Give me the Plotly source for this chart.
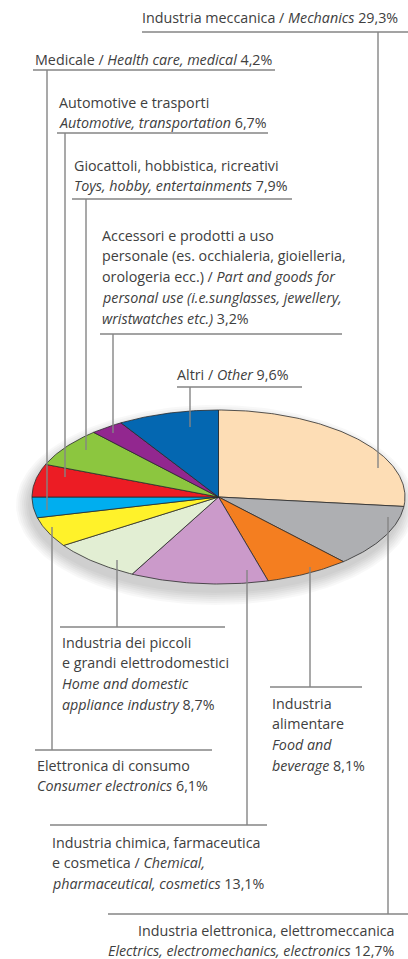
import numpy as np
import plotly.graph_objects as go

# ---------------- data ----------------
categories = [
    "Industria meccanica / Mechanics",
    "Industria elettronica, elettromeccanica / Electrics, electromechanics, electronics",
    "Industria alimentare / Food and beverage",
    "Industria chimica, farmaceutica e cosmetica / Chemical, pharmaceutical, cosmetics",
    "Industria dei piccoli e grandi elettrodomestici / Home and domestic appliance industry",
    "Elettronica di consumo / Consumer electronics",
    "Medicale / Health care, medical",
    "Automotive e trasporti / Automotive, transportation",
    "Giocattoli, hobbistica, ricreativi / Toys, hobby, entertainments",
    "Accessori e prodotti a uso personale / Part and goods for personal use",
    "Altri / Other",
]
values = [29.3, 12.7, 8.1, 13.1, 8.7, 6.1, 4.2, 6.7, 7.9, 3.2, 9.6]

label_lines = [
    ["Industria meccanica / <i>Mechanics</i> {v}"],
    ["Industria elettronica, elettromeccanica", "<i>Electrics, electromechanics, electronics</i> {v}"],
    ["Industria", "alimentare", "<i>Food and</i>", "<i>beverage</i> {v}"],
    ["Industria chimica, farmaceutica", "e cosmetica / <i>Chemical,</i>", "<i>pharmaceutical, cosmetics</i> {v}"],
    ["Industria dei piccoli", "e grandi elettrodomestici", "<i>Home and domestic</i>", "<i>appliance industry</i> {v}"],
    ["Elettronica di consumo", "<i>Consumer electronics</i> {v}"],
    ["Medicale / <i>Health care, medical</i> {v}"],
    ["Automotive e trasporti", "<i>Automotive, transportation</i> {v}"],
    ["Giocattoli, hobbistica, ricreativi", "<i>Toys, hobby, entertainments</i> {v}"],
    ["Accessori e prodotti a uso", "personale (es. occhialeria, gioielleria,",
     "orologeria ecc.) / <i>Part and goods for</i>",
     "<i>personal use (i.e.sunglasses, jewellery,</i>", "<i>wristwatches etc.)</i> {v}"],
    ["Altri / <i>Other</i> {v}"],
]

# ---------------- styles / layout ----------------
colors = ["#FDDDB5", "#AEAFB2", "#F47E20", "#CB9ACA", "#E2EED3", "#FFF22A",
          "#00AEEF", "#EC1C24", "#8CC63F", "#92278F", "#0467B1"]

W, H = 408, 959
CX, CY, RA, RB = 218.5, 497.0, 186.5, 87.0

# label placement: text x, anchor, first line y, underline (y, x0, x1), leader (x, y_end)
placement = [
    dict(x=400, anchor="right", y0=17, underline=(32, 142, 408), leader=(378, 468)),
    dict(x=397, anchor="right", y0=930, underline=(914, 108, 408), leader=(388, 517)),
    dict(x=270, anchor="left", y0=703, underline=(687, 270, 362), leader=(310, 567)),
    dict(x=50, anchor="left", y0=842, underline=(825, 50, 267), leader=(247, 570)),
    dict(x=60, anchor="left", y0=642, underline=(627, 60, 225), leader=(117, 560)),
    dict(x=35, anchor="left", y0=765, underline=(750, 35, 212), leader=(52, 527)),
    dict(x=33, anchor="left", y0=59, underline=(70, 33, 275), leader=(47, 510)),
    dict(x=57, anchor="left", y0=102, underline=(133, 57, 268), leader=(65, 477)),
    dict(x=72, anchor="left", y0=165, underline=(199, 72, 292), leader=(86, 450)),
    dict(x=100, anchor="left", y0=235, underline=(334, 100, 342), leader=(113, 433)),
    dict(x=175, anchor="left", y0=374, underline=(387, 177, 302), leader=(190, 427)),
]
LINE_STEP = 20.8
FONT = "Open Sans, sans-serif"
FONT_SIZE = 14.3
TEXT_COLOR = "#404040"
RULE_COLOR = "#858585"

fig = go.Figure()

# soft shadow under the ellipse (offset down-left)
t = np.linspace(0, 2 * np.pi, 200)
for k in range(7):
    grow = 1 + k * 2.0
    fig.add_trace(go.Scatter(
        x=CX - 3 + (RA + grow) * np.sin(t), y=CY + 8 + (RB + grow) * np.cos(t),
        fill="toself", mode="lines", line=dict(width=0),
        fillcolor="rgba(0,0,0,0.028)", hoverinfo="skip", showlegend=False))

# slices of the flattened pie, clockwise from 12 o'clock
total = sum(values)
start = 0.0
for cat, val, col in zip(categories, values, colors):
    end = start + val / total * 2 * np.pi
    th = np.linspace(start, end, max(int(val * 4), 8))
    xs = np.concatenate([[CX], CX + RA * np.sin(th), [CX]])
    ys = np.concatenate([[CY], CY - RB * np.cos(th), [CY]])
    fig.add_trace(go.Scatter(
        x=xs, y=ys, fill="toself", mode="lines",
        line=dict(color="#2b2b2b", width=0.8), fillcolor=col,
        name=cat, text=f"{cat}: {val}%", hoverinfo="text", showlegend=False))
    start = end

# labels, rules and leaders
for lines, val, p in zip(label_lines, values, placement):
    vtxt = f"{val:.1f}".replace(".", ",") + "%"
    for i, ln in enumerate(lines):
        fig.add_annotation(
            x=p["x"], y=p["y0"] + i * LINE_STEP, xref="x", yref="y",
            text=ln.replace("{v}", vtxt), showarrow=False,
            xanchor=p["anchor"], yanchor="middle", align=p["anchor"],
            font=dict(family=FONT, size=FONT_SIZE, color=TEXT_COLOR))
    uy, ux0, ux1 = p["underline"]
    fig.add_shape(type="line", x0=ux0, x1=ux1, y0=uy, y1=uy, xref="x", yref="y",
                  line=dict(color=RULE_COLOR, width=1.4), layer="above")
    lx, ly = p["leader"]
    fig.add_shape(type="line", x0=lx, x1=lx, y0=uy, y1=ly, xref="x", yref="y",
                  line=dict(color=RULE_COLOR, width=1.4), layer="above")

fig.update_layout(
    width=W, height=H, margin=dict(l=0, r=0, t=0, b=0),
    paper_bgcolor="white", plot_bgcolor="white",
    xaxis=dict(range=[0, W], visible=False, fixedrange=True),
    yaxis=dict(range=[H, 0], visible=False, fixedrange=True),
    showlegend=False,
)

fig.write_html(
    "out.html",
    config={"displayModeBar": False},
    post_script="document.body.style.margin='0';document.body.style.overflow='hidden';",
)
